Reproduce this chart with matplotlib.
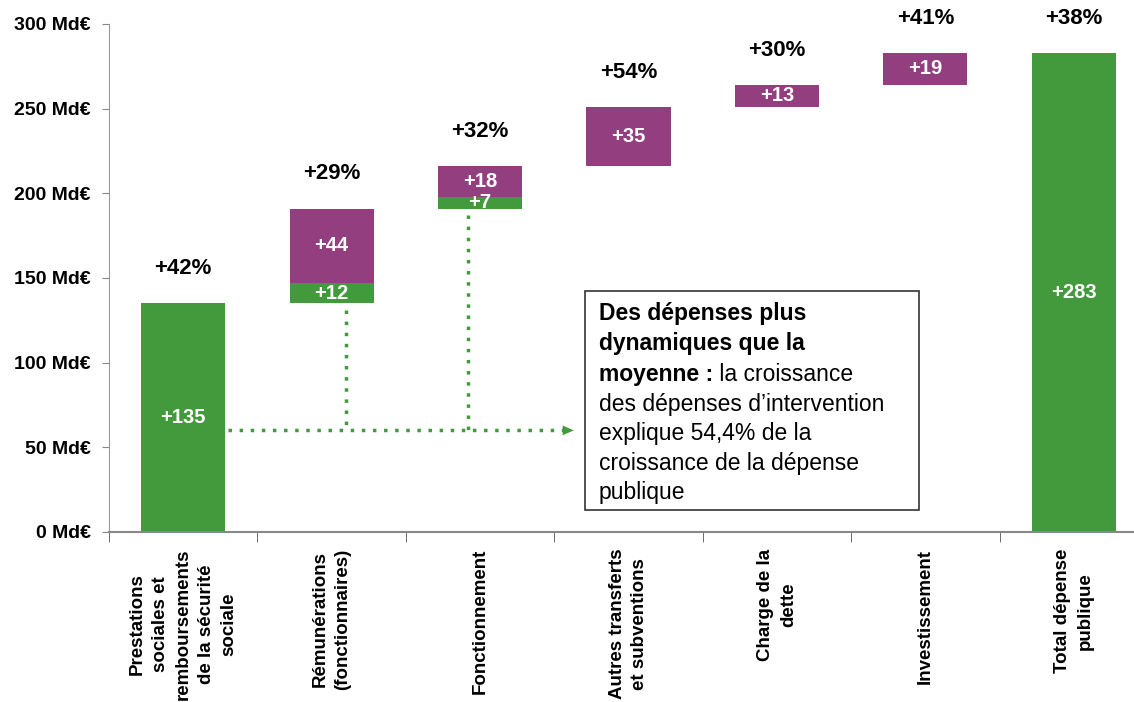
import matplotlib.pyplot as plt
import matplotlib.ticker as mticker

### data
categories = ['Prestations\nsociales et\nremboursements\nde la sécurité\nsociale',
              'Rémunérations\n(fonctionnaires)',
              'Fonctionnement',
              'Autres transferts\net subventions',
              'Charge de la\ndette',
              'Investissement',
              'Total dépense\npublique']
green_vals = [135, 12, 7, 0, 0, 0, 283]
purple_vals = [0, 44, 18, 35, 13, 19, 0]
pct_labels = ['+42%', '+29%', '+32%', '+54%', '+30%', '+41%', '+38%']
yticks = [0, 50, 100, 150, 200, 250, 300]

green = '#439a3c'
purple = '#933e7f'
font = 'Liberation Sans'

### waterfall bases
bases = []
run = 0
for i, (g, p) in enumerate(zip(green_vals, purple_vals)):
    if i == len(categories) - 1:
        bases.append(0)
    else:
        bases.append(run)
        run += g + p

fig = plt.figure(figsize=(11.34, 7.02), dpi=100)
ax = fig.add_axes([109/1134, 170/702, 1039/1134, 508/702])

x = list(range(len(categories)))
w = 0.566
ax.bar(x, green_vals, bottom=bases, width=w, color=green, zorder=2)
pbot = [b + g for b, g in zip(bases, green_vals)]
ax.bar(x, purple_vals, bottom=pbot, width=w, color=purple, zorder=2)

### value labels inside bars
for i in x:
    g, p = green_vals[i], purple_vals[i]
    if g > 0:
        ax.text(i, bases[i] + g / 2, f'+{g}', ha='center', va='center', color='white',
                fontsize=14.5, fontweight='bold', family=font, zorder=3)
    if p > 0:
        ax.text(i, pbot[i] + p / 2, f'+{p}', ha='center', va='center', color='white',
                fontsize=14.5, fontweight='bold', family=font, zorder=3)
    top = bases[i] + g + p
    ax.annotate(pct_labels[i], (i, top), xytext=(0, 25), textcoords='offset points',
                ha='center', va='center', fontsize=16, fontweight='bold', family=font)

### dotted connectors
dot = dict(color=green, linestyle=(0, (1, 2.2)), linewidth=2.5, zorder=1)
ax.plot([1.1, 1.1], [131, 60], **dot)
ax.plot([1.92, 1.92], [187, 60], **dot)
ax.plot([0.30, 2.58], [60, 60], **dot)
ax.annotate('', xy=(2.65, 60), xytext=(2.56, 60),
            arrowprops=dict(arrowstyle='-|>,head_length=0.8,head_width=0.35',
                            color=green, lw=0), zorder=1)

### text box
ax.add_patch(plt.Rectangle((2.705, 13), 2.255, 129.5, facecolor='white',
                           edgecolor='#333333', linewidth=1.2, zorder=3))
fs = 16.5
tx = 2.80
t1 = ax.text(tx, 129, 'Des dépenses plus', fontsize=fs, fontweight='bold',
             family=font, va='center', zorder=4)
ax.text(tx, 111.5, 'dynamiques que la', fontsize=fs, fontweight='bold',
        family=font, va='center', zorder=4)
t3 = ax.text(tx, 89, 'moyenne :', fontsize=fs, fontweight='bold',
             family=font, va='baseline', zorder=4)
ax.annotate(' la croissance', xy=(1, 0), xycoords=t3, va='bottom', ha='left',
            fontsize=fs, family=font, zorder=4)
rest = ['des dépenses d’intervention', 'explique 54,4% de la',
        'croissance de la dépense', 'publique']
for k, line in enumerate(rest):
    ax.text(tx, 71.5 - 17.3 * k, line, fontsize=fs, family=font,
            va='baseline', zorder=4)

### axes styling
ax.set_xlim(-0.5, 6.5)
ax.set_ylim(0, 300)
ax.set_yticks(yticks)
ax.set_yticklabels([f'{v} Md€' for v in yticks], fontsize=14, fontweight='bold', family=font)
ax.set_xticks(x)
ax.set_xticklabels(categories, rotation=90, ha='center', va='top', multialignment='center',
                   fontsize=13.5, fontweight='bold', family=font, linespacing=1.45)
ax.xaxis.set_minor_locator(mticker.FixedLocator([i - 0.5 for i in range(len(categories) + 1)]))
ax.tick_params(axis='x', which='major', length=0, pad=12)
ax.tick_params(axis='x', which='minor', length=7, color='#555555', direction='out')
ax.tick_params(axis='y', length=5, color='#888888', pad=8)
for s in ['top', 'right']:
    ax.spines[s].set_visible(False)
ax.spines['left'].set_color('#999999')
ax.spines['bottom'].set_color('#888888')
ax.spines['bottom'].set_linewidth(1.5)

fig.savefig('out.png', dpi=100)
